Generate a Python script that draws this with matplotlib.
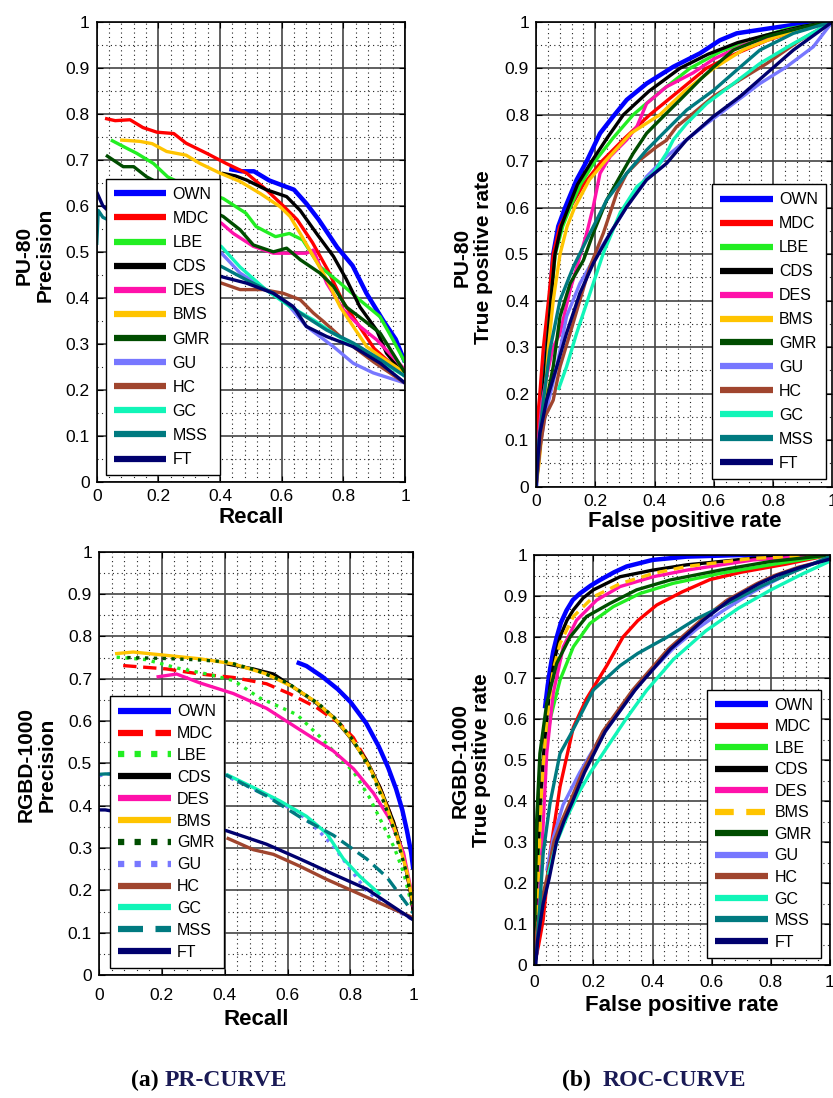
import matplotlib
matplotlib.use("Agg")
import matplotlib.pyplot as plt
from matplotlib.ticker import MultipleLocator, FuncFormatter

plt.rcParams["font.family"] = ["Liberation Sans", "DejaVu Sans"]

methods = ["OWN", "MDC", "LBE", "CDS", "DES", "BMS", "GMR", "GU", "HC", "GC", "MSS", "FT"]
colors = ["#0000ff", "#ff0000", "#22ee22", "#000000", "#ff11aa", "#ffc400",
          "#004d00", "#7777ff", "#a0452e", "#11f5b8", "#007a80", "#00006e"]

# PU-80 precision-recall curves: (recall, precision)
pu_pr = {
    "OWN": ([0.43, 0.47, 0.51, 0.56, 0.6, 0.64, 0.68, 0.72, 0.78, 0.83, 0.875, 0.93, 0.97, 1.0],
            [0.68, 0.675, 0.675, 0.655, 0.645, 0.635, 0.605, 0.57, 0.51, 0.47, 0.41, 0.35, 0.31, 0.26]),
    "MDC": ([0.027, 0.06, 0.108, 0.15, 0.195, 0.25, 0.29, 0.357, 0.42, 0.486, 0.55, 0.605, 0.65, 0.7, 0.75, 0.8, 0.85, 0.9, 0.95, 1.0],
            [0.79, 0.785, 0.787, 0.77, 0.76, 0.757, 0.736, 0.714, 0.692, 0.671, 0.635, 0.6, 0.57, 0.52, 0.46, 0.39, 0.34, 0.29, 0.26, 0.23]),
    "LBE": ([0.046, 0.086, 0.13, 0.184, 0.23, 0.3, 0.41, 0.484, 0.517, 0.58, 0.625, 0.668, 0.724, 0.79, 0.854, 0.919, 0.96, 1.0],
            [0.743, 0.729, 0.714, 0.692, 0.663, 0.64, 0.616, 0.584, 0.555, 0.533, 0.54, 0.526, 0.468, 0.432, 0.395, 0.359, 0.31, 0.26]),
    "CDS": ([0.405, 0.45, 0.486, 0.55, 0.616, 0.66, 0.713, 0.768, 0.81, 0.854, 0.908, 0.94, 1.0],
            [0.671, 0.665, 0.656, 0.635, 0.62, 0.59, 0.54, 0.49, 0.44, 0.38, 0.33, 0.28, 0.23]),
    "DES": ([0.35, 0.405, 0.443, 0.508, 0.573, 0.638, 0.68, 0.703, 0.746, 0.8, 0.854, 0.908, 1.0],
            [0.58, 0.562, 0.54, 0.512, 0.497, 0.497, 0.497, 0.504, 0.432, 0.374, 0.338, 0.309, 0.244]),
    "BMS": ([0.076, 0.14, 0.18, 0.227, 0.29, 0.335, 0.4, 0.465, 0.53, 0.595, 0.627, 0.66, 0.703, 0.746, 0.79, 0.832, 0.876, 0.92, 1.0],
            [0.743, 0.74, 0.735, 0.718, 0.71, 0.692, 0.671, 0.653, 0.627, 0.598, 0.577, 0.54, 0.49, 0.44, 0.38, 0.338, 0.294, 0.273, 0.237]),
    "GMR": ([0.03, 0.086, 0.12, 0.162, 0.19, 0.3, 0.41, 0.465, 0.508, 0.573, 0.616, 0.66, 0.724, 0.768, 0.81, 0.865, 0.92, 1.0],
            [0.71, 0.685, 0.685, 0.663, 0.653, 0.61, 0.577, 0.548, 0.515, 0.5, 0.508, 0.483, 0.454, 0.425, 0.38, 0.352, 0.323, 0.237]),
    "GU": ([0.3, 0.405, 0.465, 0.55, 0.616, 0.68, 0.768, 0.832, 0.897, 1.0],
           [0.55, 0.497, 0.454, 0.417, 0.389, 0.338, 0.294, 0.258, 0.237, 0.215]),
    "HC": ([0.3, 0.405, 0.465, 0.54, 0.605, 0.66, 0.703, 0.735, 0.8, 0.9, 1.0],
           [0.45, 0.432, 0.418, 0.418, 0.41, 0.396, 0.367, 0.349, 0.31, 0.26, 0.215]),
    "GC": ([0.3, 0.405, 0.465, 0.55, 0.627, 0.703, 0.768, 0.854, 0.93, 1.0],
           [0.56, 0.511, 0.467, 0.417, 0.381, 0.352, 0.323, 0.287, 0.258, 0.23]),
    "MSS": ([0.0, 0.005, 0.02, 0.1, 0.405, 0.486, 0.573, 0.66, 0.746, 0.832, 0.92, 1.0],
            [0.515, 0.59, 0.575, 0.55, 0.468, 0.439, 0.41, 0.367, 0.33, 0.302, 0.266, 0.23]),
    "FT": ([0.0, 0.02, 0.1, 0.405, 0.486, 0.573, 0.638, 0.68, 0.746, 0.832, 0.92, 1.0],
           [0.63, 0.6, 0.55, 0.446, 0.432, 0.41, 0.381, 0.338, 0.316, 0.294, 0.258, 0.215]),
}

# PU-80 ROC curves: (false positive rate, true positive rate)
pu_roc = {
    "OWN": ([0, 0.005, 0.015, 0.03, 0.047, 0.058, 0.075, 0.098, 0.137, 0.171, 0.216, 0.26, 0.306, 0.373, 0.463, 0.553, 0.62, 0.677, 0.79, 0.9, 1.0],
            [0, 0.08, 0.15, 0.25, 0.4, 0.5, 0.56, 0.6, 0.66, 0.7, 0.76, 0.796, 0.832, 0.867, 0.903, 0.932, 0.96, 0.975, 0.986, 0.996, 1.0]),
    "MDC": ([0, 0.003, 0.013, 0.025, 0.042, 0.058, 0.08, 0.115, 0.16, 0.222, 0.3, 0.384, 0.48, 0.575, 0.67, 0.78, 0.9, 1],
            [0, 0.13, 0.2, 0.3, 0.4, 0.5, 0.56, 0.6, 0.65, 0.7, 0.75, 0.8, 0.85, 0.9, 0.93, 0.96, 0.985, 1]),
    "LBE": ([0, 0.005, 0.02, 0.035, 0.05, 0.065, 0.09, 0.115, 0.15, 0.199, 0.26, 0.328, 0.42, 0.52, 0.62, 0.72, 0.85, 1],
            [0, 0.08, 0.17, 0.28, 0.4, 0.5, 0.56, 0.6, 0.65, 0.7, 0.75, 0.8, 0.85, 0.9, 0.935, 0.96, 0.985, 1]),
    "CDS": ([0, 0.005, 0.02, 0.035, 0.05, 0.064, 0.085, 0.109, 0.14, 0.188, 0.24, 0.295, 0.38, 0.486, 0.58, 0.68, 0.8, 0.9, 1],
            [0, 0.08, 0.17, 0.28, 0.4, 0.5, 0.56, 0.6, 0.65, 0.7, 0.75, 0.8, 0.85, 0.9, 0.93, 0.955, 0.975, 0.99, 1]),
    "DES": ([0, 0.005, 0.02, 0.04, 0.058, 0.081, 0.115, 0.148, 0.171, 0.193, 0.216, 0.25, 0.306, 0.34, 0.373, 0.44, 0.53, 0.6, 0.7, 0.85, 1],
            [0, 0.08, 0.18, 0.25, 0.3, 0.33, 0.423, 0.495, 0.545, 0.602, 0.674, 0.71, 0.746, 0.774, 0.824, 0.86, 0.89, 0.92, 0.95, 0.98, 1]),
    "BMS": ([0, 0.01, 0.025, 0.042, 0.058, 0.081, 0.105, 0.13, 0.18, 0.233, 0.32, 0.418, 0.5, 0.6, 0.7, 0.8, 0.9, 1],
            [0, 0.05, 0.15, 0.3, 0.4, 0.5, 0.56, 0.6, 0.66, 0.7, 0.76, 0.8, 0.85, 0.9, 0.94, 0.965, 0.985, 1]),
    "GMR": ([0, 0.01, 0.025, 0.058, 0.081, 0.115, 0.16, 0.193, 0.238, 0.283, 0.328, 0.373, 0.418, 0.486, 0.553, 0.6, 0.666, 0.778, 0.9, 1],
            [0, 0.07, 0.15, 0.258, 0.366, 0.437, 0.487, 0.545, 0.616, 0.667, 0.717, 0.76, 0.789, 0.832, 0.875, 0.903, 0.939, 0.968, 0.988, 1]),
    "GU": ([0, 0.012, 0.03, 0.07, 0.103, 0.148, 0.193, 0.25, 0.306, 0.373, 0.44, 0.508, 0.576, 0.666, 0.755, 0.845, 0.935, 1],
           [0, 0.08, 0.15, 0.258, 0.366, 0.437, 0.487, 0.545, 0.602, 0.667, 0.71, 0.746, 0.781, 0.824, 0.867, 0.903, 0.946, 1]),
    "HC": ([0, 0.015, 0.03, 0.058, 0.081, 0.115, 0.148, 0.182, 0.227, 0.272, 0.306, 0.351, 0.407, 0.44, 0.474, 0.53, 0.598, 0.688, 0.778, 0.89, 1],
           [0, 0.09, 0.15, 0.186, 0.258, 0.33, 0.401, 0.473, 0.545, 0.631, 0.674, 0.703, 0.731, 0.745, 0.774, 0.803, 0.839, 0.875, 0.91, 0.96, 1]),
    "GC": ([0.075, 0.103, 0.137, 0.182, 0.227, 0.283, 0.34, 0.396, 0.44, 0.463, 0.508, 0.576, 0.666, 0.755, 0.868, 1],
           [0.208, 0.258, 0.33, 0.416, 0.502, 0.588, 0.645, 0.674, 0.717, 0.746, 0.781, 0.824, 0.867, 0.91, 0.953, 1]),
    "MSS": ([0, 0.01, 0.025, 0.047, 0.081, 0.126, 0.182, 0.238, 0.306, 0.373, 0.44, 0.508, 0.6, 0.677, 0.755, 0.868, 1],
            [0, 0.1, 0.186, 0.294, 0.401, 0.473, 0.545, 0.616, 0.674, 0.724, 0.767, 0.81, 0.853, 0.896, 0.939, 0.975, 1]),
    "FT": ([0, 0.005, 0.013, 0.036, 0.07, 0.103, 0.148, 0.193, 0.25, 0.306, 0.373, 0.44, 0.508, 0.598, 0.688, 0.778, 0.868, 1],
           [0, 0.05, 0.115, 0.186, 0.258, 0.33, 0.416, 0.48, 0.545, 0.602, 0.66, 0.695, 0.746, 0.796, 0.839, 0.889, 0.939, 1]),
}

# RGBD-1000 precision-recall curves
rgbd_pr = {
    "OWN": ([0.629, 0.66, 0.71, 0.76, 0.8, 0.85, 0.89, 0.92, 0.945, 0.965, 0.98, 0.993, 1.0],
            [0.739, 0.73, 0.705, 0.675, 0.645, 0.595, 0.54, 0.49, 0.44, 0.39, 0.34, 0.29, 0.25]),
    "MDC": ([0.077, 0.215, 0.321, 0.427, 0.533, 0.608, 0.692, 0.767, 0.809, 0.852, 0.894, 0.936, 0.968, 0.99, 1.0],
            [0.731, 0.723, 0.711, 0.703, 0.688, 0.664, 0.632, 0.593, 0.561, 0.506, 0.443, 0.364, 0.285, 0.2, 0.15]),
    "LBE": ([0.056, 0.15, 0.25, 0.35, 0.43, 0.51, 0.57, 0.63, 0.7, 0.77, 0.81, 0.86, 0.9, 0.94, 0.97, 1.0],
            [0.751, 0.745, 0.725, 0.71, 0.695, 0.655, 0.635, 0.615, 0.565, 0.51, 0.48, 0.42, 0.36, 0.3, 0.24, 0.15]),
    "CDS": ([0.406, 0.491, 0.555, 0.618, 0.682, 0.746, 0.799, 0.852, 0.894, 0.936, 0.968, 0.99, 1.0],
            [0.735, 0.723, 0.711, 0.68, 0.648, 0.609, 0.561, 0.506, 0.443, 0.364, 0.285, 0.2, 0.15]),
    "DES": ([0.183, 0.247, 0.321, 0.427, 0.533, 0.64, 0.746, 0.81, 0.873, 0.927, 0.969, 0.996, 1.0],
            [0.704, 0.711, 0.69, 0.665, 0.63, 0.579, 0.529, 0.487, 0.43, 0.366, 0.288, 0.189, 0.16]),
    "BMS": ([0.051, 0.109, 0.215, 0.321, 0.427, 0.533, 0.618, 0.692, 0.756, 0.809, 0.862, 0.905, 0.947, 0.979, 1.0],
            [0.759, 0.763, 0.755, 0.747, 0.735, 0.711, 0.68, 0.644, 0.601, 0.553, 0.49, 0.419, 0.332, 0.245, 0.166]),
    "GMR": ([0.09, 0.2, 0.3, 0.406, 0.5, 0.6, 0.7, 0.76, 0.81, 0.86, 0.9, 0.945, 0.975, 1.0],
            [0.75, 0.748, 0.745, 0.74, 0.72, 0.69, 0.64, 0.6, 0.553, 0.49, 0.42, 0.33, 0.25, 0.16]),
    "GU": ([0.0, 0.02, 0.405, 0.533, 0.64, 0.7, 0.75, 0.8, 0.85, 0.9, 1.0],
           [0.47, 0.475, 0.47, 0.425, 0.38, 0.34, 0.3, 0.25, 0.2, 0.17, 0.13]),
    "HC": ([0.406, 0.491, 0.555, 0.639, 0.724, 0.809, 0.905, 1.0],
           [0.324, 0.296, 0.285, 0.257, 0.226, 0.198, 0.166, 0.135]),
    "GC": ([0.405, 0.491, 0.576, 0.66, 0.724, 0.777, 0.83, 0.895],
           [0.474, 0.443, 0.411, 0.375, 0.335, 0.275, 0.233, 0.19]),
    "MSS": ([0.0, 0.02, 0.405, 0.533, 0.64, 0.746, 0.852, 0.916, 0.98, 1.0],
            [0.474, 0.475, 0.472, 0.423, 0.373, 0.33, 0.274, 0.231, 0.167, 0.146]),
    "FT": ([0.0, 0.02, 0.405, 0.533, 0.64, 0.746, 0.852, 1.0],
           [0.39, 0.39, 0.341, 0.309, 0.274, 0.238, 0.203, 0.13]),
}

# RGBD-1000 ROC curves
rgbd_roc = {
    "OWN": ([0.036, 0.045, 0.053, 0.064, 0.076, 0.09, 0.109, 0.13, 0.154, 0.19, 0.222, 0.27, 0.312, 0.4, 0.515, 0.7, 1.0],
            [0.626, 0.68, 0.72, 0.765, 0.8, 0.835, 0.865, 0.89, 0.906, 0.925, 0.939, 0.958, 0.972, 0.988, 0.996, 1.0, 1.0]),
    "MDC": ([0, 0.015, 0.03, 0.053, 0.087, 0.132, 0.177, 0.245, 0.3, 0.35, 0.414, 0.5, 0.594, 0.7, 0.853, 1.0],
            [0, 0.05, 0.11, 0.272, 0.435, 0.58, 0.65, 0.73, 0.8, 0.84, 0.878, 0.91, 0.94, 0.958, 0.978, 1.0]),
    "LBE": ([0, 0.008, 0.025, 0.053, 0.087, 0.132, 0.188, 0.267, 0.357, 0.47, 0.628, 0.797, 1.0],
            [0, 0.191, 0.435, 0.598, 0.695, 0.776, 0.833, 0.874, 0.906, 0.931, 0.955, 0.976, 1.0]),
    "CDS": ([0, 0.005, 0.01, 0.02, 0.035, 0.053, 0.07, 0.087, 0.11, 0.132, 0.165, 0.2, 0.29, 0.4, 0.515, 0.74, 1.0],
            [0, 0.1, 0.25, 0.4, 0.55, 0.679, 0.75, 0.8, 0.84, 0.866, 0.895, 0.915, 0.947, 0.963, 0.976, 0.992, 1.0]),
    "DES": ([0, 0.008, 0.025, 0.042, 0.064, 0.098, 0.143, 0.211, 0.29, 0.402, 0.515, 0.74, 1.0],
            [0, 0.028, 0.272, 0.516, 0.663, 0.776, 0.841, 0.89, 0.923, 0.947, 0.963, 0.988, 1.0]),
    "BMS": ([0, 0.008, 0.025, 0.042, 0.064, 0.087, 0.132, 0.2, 0.29, 0.402, 0.515, 0.74, 1.0],
            [0, 0.11, 0.435, 0.598, 0.72, 0.784, 0.85, 0.898, 0.93, 0.955, 0.972, 0.992, 1.0]),
    "GMR": ([0, 0.002, 0.008, 0.019, 0.042, 0.076, 0.121, 0.177, 0.256, 0.346, 0.459, 0.628, 0.797, 1.0],
            [0, 0.11, 0.354, 0.516, 0.638, 0.736, 0.8, 0.85, 0.882, 0.915, 0.939, 0.963, 0.984, 1.0]),
    "GU": ([0.042, 0.064, 0.097, 0.154, 0.211, 0.29, 0.36, 0.467, 0.55, 0.64, 0.74, 0.86, 1.0],
           [0.23, 0.31, 0.39, 0.47, 0.54, 0.62, 0.69, 0.77, 0.82, 0.865, 0.91, 0.955, 0.995]),
    "HC": ([0.0, 0.004, 0.022, 0.042, 0.066, 0.092, 0.122, 0.162, 0.232, 0.332, 0.452, 0.562, 0.652, 0.752, 0.812, 0.892, 1.0],
           [0, 0.06, 0.15, 0.21, 0.3, 0.35, 0.4, 0.47, 0.57, 0.67, 0.77, 0.84, 0.89, 0.93, 0.95, 0.97, 0.99]),
    "GC": ([0.047, 0.076, 0.11, 0.15, 0.19, 0.245, 0.31, 0.38, 0.47, 0.58, 0.69, 0.8, 0.91, 1.0],
           [0.22, 0.3, 0.36, 0.42, 0.47, 0.53, 0.6, 0.67, 0.745, 0.815, 0.87, 0.915, 0.955, 0.985]),
    "MSS": ([0, 0.008, 0.03, 0.053, 0.087, 0.121, 0.2, 0.29, 0.35, 0.45, 0.55, 0.65, 0.77, 0.88, 1.0],
            [0, 0.028, 0.272, 0.394, 0.516, 0.56, 0.671, 0.73, 0.76, 0.8, 0.845, 0.88, 0.925, 0.96, 0.996]),
    "FT": ([0.005, 0.011, 0.03, 0.05, 0.075, 0.1, 0.13, 0.17, 0.24, 0.34, 0.46, 0.57, 0.66, 0.76, 0.82, 0.9, 1.0],
           [0, 0.06, 0.15, 0.21, 0.3, 0.35, 0.4, 0.47, 0.57, 0.67, 0.77, 0.84, 0.89, 0.93, 0.95, 0.97, 0.99]),
}

# line styles that differ from solid
rgbd_pr_styles = {"MDC": (0, (4, 2)), "LBE": ":", "GMR": ":", "GU": ":", "MSS": (0, (4, 2))}
rgbd_roc_styles = {"BMS": (0, (3, 2))}


def draw_panel(ax, curves, styles, legend_box, spacing, pad):
    for name, col in zip(methods, colors):
        x, y = curves[name]
        lw = 3.2 if name == "OWN" else 2.4
        ax.plot(x, y, color=col, lw=lw, ls=styles.get(name, "-"), label=name,
                solid_capstyle="butt")
    ax.set_xlim(0, 1)
    ax.set_ylim(0, 1)
    ax.xaxis.set_major_locator(MultipleLocator(0.2))
    ax.yaxis.set_major_locator(MultipleLocator(0.1))
    ax.xaxis.set_minor_locator(MultipleLocator(0.04))
    ax.yaxis.set_minor_locator(MultipleLocator(0.05))
    fmt = FuncFormatter(lambda v, p: f"{v:g}")
    ax.xaxis.set_major_formatter(fmt)
    ax.yaxis.set_major_formatter(fmt)
    ax.grid(which="major", color="#444444", lw=1.2, ls="-")
    ax.grid(which="minor", color="#222222", lw=0.8, ls=(0, (1, 3)))
    ax.set_axisbelow(True)
    ax.tick_params(which="major", direction="in", length=4, labelsize=12.5,
                   top=True, right=True, pad=5)
    ax.tick_params(axis="x", which="major", pad=pad)
    ax.tick_params(which="minor", length=0)
    for s in ax.spines.values():
        s.set_linewidth(1.2)
    leg = ax.legend(loc="lower left", bbox_to_anchor=legend_box, borderaxespad=0,
                    fontsize=11.5, handlelength=3.3, handletextpad=0.4,
                    labelspacing=spacing, borderpad=0.5, fancybox=False,
                    framealpha=1, edgecolor="black")
    leg.get_frame().set_linewidth(1.0)
    for line in leg.get_lines():
        line.set_linewidth(4.5)


W, H = 833, 1098
fig = plt.figure(figsize=(W / 100, H / 100), dpi=100)


def axes_px(left, top, right, bottom):
    return fig.add_axes([left / W, 1 - bottom / H, (right - left) / W, (bottom - top) / H])


ax1 = axes_px(96.7, 21.7, 405, 482)
ax2 = axes_px(536, 21.7, 832.5, 486.7)
ax3 = axes_px(99, 551.7, 413.3, 975)
ax4 = axes_px(534.3, 555, 830, 965)

draw_panel(ax1, pu_pr, {}, (0.029, 0.015), 0.57, 5)
draw_panel(ax2, pu_roc, {}, (0.594, 0.017), 0.56, 5)
draw_panel(ax3, rgbd_pr, rgbd_pr_styles, (0.035, 0.017), 0.43, 9)
draw_panel(ax4, rgbd_roc, rgbd_roc_styles, (0.585, 0.018), 0.41, 7)

for ax, lab, lp in [(ax1, "Recall", 2), (ax2, "False positive rate", 2),
                    (ax3, "Recall", 5), (ax4, "False positive rate", 4)]:
    ax.set_xlabel(lab, fontsize=16, fontweight="bold", labelpad=lp)

ylab_kw = dict(rotation=90, ha="center", va="center", fontsize=15,
               fontweight="bold", linespacing=1.15, multialignment="center")
fig.text(35 / W, 1 - 255 / H, "PU-80\nPrecision", **ylab_kw)
fig.text(473 / W, 1 - 257 / H, "PU-80\nTrue positive rate", **ylab_kw)
fig.text(37 / W, 1 - 765 / H, "RGBD-1000\nPrecision", **ylab_kw)
fig.text(471 / W, 1 - 760 / H, "RGBD-1000\nTrue positive rate", **ylab_kw)

cap_kw = dict(fontsize=17, fontweight="bold", va="center", ha="left",
              family=["Liberation Serif", "DejaVu Serif"])
fig.text(131 / W, 1 - 1080 / H, "(a)", color="black", **cap_kw)
fig.text(165 / W, 1 - 1080 / H, "PR-CURVE", color="#1a1a55", **cap_kw)
fig.text(562 / W, 1 - 1080 / H, "(b)", color="black", **cap_kw)
fig.text(603 / W, 1 - 1080 / H, "ROC-CURVE", color="#1a1a55", **cap_kw)

fig.savefig("out.png", dpi=100)
